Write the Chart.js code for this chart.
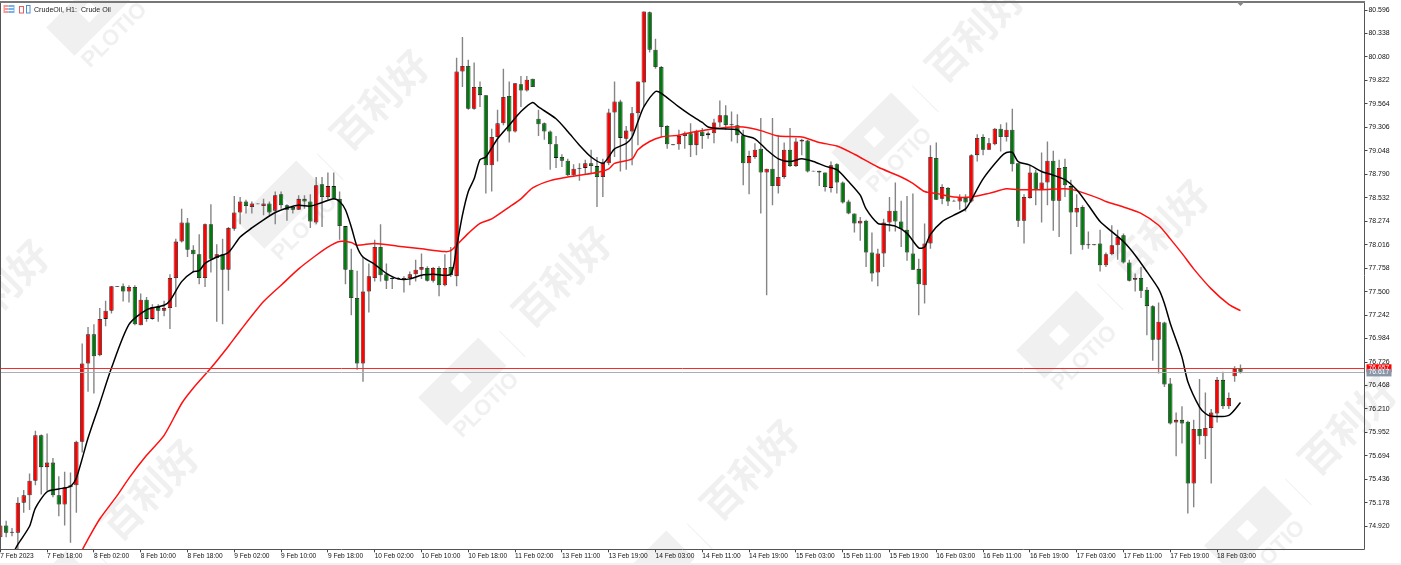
<!DOCTYPE html>
<html>
<head>
<meta charset="utf-8">
<title>CrudeOil, H1</title>
<script src="https://cdn.jsdelivr.net/npm/chart.js@4/dist/chart.umd.min.js"></script>
<style>
  html, body { margin: 0; padding: 0; background: #fff; overflow: hidden; }
  canvas { display: block; }
</style>
</head>
<body>
<canvas id="chart" width="1401" height="565"></canvas>
<script>
// H1 candles, one entry per bar
const opens = [
  74.80,74.93,74.86,74.85,75.18,75.26,75.42,75.92,75.57,75.62,
  75.26,75.16,75.35,75.37,75.85,76.71,77.03,76.80,77.20,77.29,
  77.56,77.56,77.50,77.55,77.13,77.41,77.20,77.33,77.29,77.32,
  77.65,78.05,78.26,77.96,77.91,77.65,78.24,77.87,77.91,77.74,
  78.19,78.37,78.49,78.43,78.47,78.44,78.47,78.39,78.57,78.45,
  78.43,78.40,78.52,78.49,78.26,78.68,78.54,78.66,78.52,78.22,
  77.74,77.43,76.71,77.50,77.65,77.99,77.69,77.64,77.65,77.63,
  77.65,77.69,77.74,77.76,77.62,77.76,77.57,77.77,77.67,79.92,
  79.98,79.51,79.75,79.66,78.89,79.20,79.35,79.65,79.26,79.78,
  79.71,79.84,79.40,79.35,79.26,79.12,78.98,78.94,78.78,78.86,
  78.86,78.91,78.88,78.76,78.91,79.47,79.59,79.18,79.26,79.46,
  79.80,80.57,80.16,79.97,79.32,79.12,79.12,79.21,79.24,79.11,
  79.26,79.22,79.24,79.36,79.44,79.34,79.33,79.22,78.91,78.98,
  79.07,78.81,78.85,78.66,78.76,79.06,78.88,79.15,79.16,78.83,
  78.83,78.81,78.64,78.90,78.70,78.49,78.36,78.25,78.28,77.93,
  77.71,77.92,78.26,78.39,78.27,78.18,77.92,77.75,77.57,78.03,
  78.97,78.52,78.64,78.50,78.49,78.53,78.49,79.00,79.20,79.06,
  79.12,79.29,79.20,79.28,78.91,78.28,78.53,78.81,78.62,78.70,
  78.94,78.50,78.87,78.66,78.37,78.43,78.02,78.02,78.03,77.79,
  77.91,78.01,78.12,77.82,77.63,77.65,77.52,77.34,76.97,77.16,
  76.49,76.06,76.09,76.07,75.39,75.99,75.91,76.00,76.16,76.53,
  76.24,76.57,76.66
];
const closes = [
  74.93,74.85,74.85,75.18,75.26,75.42,75.92,75.57,75.62,75.26,
  75.16,75.35,75.37,75.85,76.71,77.03,76.79,77.20,77.29,77.56,
  77.55,77.50,77.55,77.14,77.41,77.20,77.33,77.29,77.32,77.65,
  78.05,78.26,77.96,77.91,77.65,78.24,77.86,77.91,77.74,78.20,
  78.37,78.49,78.44,78.47,78.46,78.47,78.37,78.56,78.45,78.40,
  78.40,78.52,78.49,78.27,78.67,78.54,78.66,78.52,78.22,77.74,
  77.43,76.71,77.50,77.67,77.99,77.68,77.62,77.65,77.64,77.65,
  77.69,77.74,77.77,77.62,77.76,77.57,77.76,77.68,79.92,79.98,
  79.51,79.75,79.66,78.89,79.20,79.35,79.64,79.26,79.79,79.71,
  79.83,79.75,79.34,79.26,79.12,78.97,78.94,78.78,78.85,78.85,
  78.91,78.88,78.76,78.92,79.47,79.59,79.19,79.27,79.46,79.81,
  80.58,80.16,79.97,79.31,79.12,79.11,79.21,79.24,79.11,79.26,
  79.21,79.24,79.36,79.44,79.33,79.33,79.22,78.91,78.99,79.06,
  78.81,78.85,78.66,78.76,79.06,78.88,79.15,79.17,78.82,78.82,
  78.81,78.65,78.89,78.70,78.48,78.36,78.25,78.28,77.93,77.70,
  77.92,78.26,78.39,78.27,78.19,77.93,77.74,77.58,78.03,78.98,
  78.51,78.65,78.49,78.49,78.54,78.48,79.00,79.19,79.06,79.13,
  79.29,79.20,79.28,78.90,78.28,78.54,78.81,78.62,78.70,78.94,
  78.50,78.86,78.67,78.37,78.42,78.01,78.01,78.01,77.79,77.91,
  78.01,78.10,77.82,77.62,77.65,77.51,77.34,76.97,77.17,76.48,
  76.05,76.09,76.05,75.39,75.99,75.91,76.00,76.17,76.53,76.24,
  76.33,76.65,76.62
];
const highs = [
  74.93,74.98,74.90,75.24,75.32,75.50,75.97,75.93,75.94,75.67,
  75.47,75.52,75.51,75.86,76.93,77.11,77.14,77.32,77.40,77.56,
  77.56,77.59,77.57,77.57,77.48,77.44,77.36,77.36,77.40,77.69,
  78.08,78.41,78.31,78.01,78.13,78.25,78.46,78.02,78.08,78.21,
  78.55,78.54,78.51,78.49,78.47,78.52,78.49,78.60,78.60,78.46,
  78.44,78.56,78.56,78.57,78.76,78.76,78.81,78.81,78.60,78.22,
  77.97,77.73,77.88,77.81,78.07,78.24,77.81,77.66,77.66,77.67,
  77.72,77.85,77.92,77.78,77.77,77.78,77.91,77.99,80.07,80.30,
  80.05,80.02,79.81,79.66,79.29,79.50,79.95,79.81,79.79,79.87,
  79.87,79.84,79.50,79.36,79.27,79.21,79.01,78.96,78.90,78.91,
  78.95,79.06,78.98,78.96,79.51,79.81,79.61,79.32,79.53,79.81,
  80.58,80.58,80.28,79.98,79.33,79.12,79.28,79.26,79.35,79.28,
  79.30,79.26,79.40,79.60,79.55,79.48,79.45,79.28,79.05,79.13,
  79.41,78.85,79.41,79.22,79.14,79.30,79.19,79.18,79.17,78.83,
  78.83,78.81,78.93,78.91,78.71,78.51,78.36,78.32,78.29,78.15,
  77.97,78.30,78.54,78.70,78.50,78.55,78.58,77.86,78.25,79.11,
  79.14,78.68,78.65,78.51,78.57,78.57,79.01,79.23,79.23,79.19,
  79.30,79.34,79.36,79.51,78.91,78.57,78.89,78.84,79.03,79.15,
  79.05,78.95,78.96,78.73,78.57,78.45,78.16,78.02,78.18,77.93,
  78.23,78.18,78.14,77.85,77.70,77.77,77.55,77.35,77.38,77.17,
  76.55,76.17,76.24,76.08,76.09,76.54,76.39,76.21,76.56,76.62,
  76.39,76.68,76.70
];
const lows = [
  74.80,74.80,74.81,74.64,75.07,75.10,75.37,75.27,75.31,75.24,
  75.03,74.93,74.74,75.07,75.73,76.40,76.38,76.79,77.12,77.26,
  77.55,77.39,77.38,77.13,77.13,77.17,77.19,77.17,77.23,77.09,
  77.33,78.04,77.88,77.71,77.58,77.55,77.71,77.17,77.14,77.51,
  78.17,78.24,78.36,78.36,78.46,78.34,78.34,78.24,78.41,78.28,
  78.36,78.40,78.41,78.20,78.24,78.21,78.51,78.51,78.07,77.58,
  77.24,76.64,76.51,77.27,77.61,77.61,77.53,77.53,77.63,77.49,
  77.57,77.61,77.64,77.61,77.60,77.45,77.56,77.66,77.56,79.75,
  79.50,79.50,79.53,78.58,78.60,78.93,79.33,79.14,79.25,79.53,
  79.70,79.75,79.21,79.17,78.84,78.86,78.87,78.77,78.77,78.72,
  78.79,78.79,78.43,78.54,78.89,78.98,78.82,78.84,78.89,79.11,
  79.53,80.13,79.95,79.20,79.07,79.11,79.06,79.07,78.98,79.00,
  79.07,79.18,79.13,79.31,79.28,79.15,79.13,78.67,78.57,78.96,
  78.36,77.46,78.45,78.58,78.74,78.87,78.87,79.00,78.81,78.82,
  78.66,78.60,78.59,78.58,78.47,78.35,78.15,78.06,77.77,77.61,
  77.56,77.77,78.16,78.16,77.99,77.84,77.74,77.24,77.37,77.97,
  78.51,78.46,78.44,78.49,78.40,78.38,78.48,78.93,79.00,79.06,
  79.11,79.04,79.15,78.82,78.21,78.03,78.52,78.45,78.26,78.45,
  78.17,78.10,78.54,77.91,78.21,77.96,77.97,78.01,77.72,77.77,
  77.90,77.85,77.81,77.61,77.50,77.43,77.02,76.74,76.60,76.45,
  76.04,75.69,75.83,75.06,75.13,75.82,75.66,75.39,76.06,76.21,
  76.21,76.51,76.60
];

// fast average (black) at these bars
const fastBars = [2,3,5,6,8,10,12,13,15,17,19,22,25,28,29,31,33,34,35,37,39,41,43,45,47,49,51,53,55,57,58,59,60,61,62,64,66,68,70,72,74,77,78,79,80,81,82,83,85,87,89,91,92,95,97,99,101,103,104,105,107,108,109,110,112,113,116,118,120,121,123,126,127,129,131,133,135,137,139,141,143,145,147,148,150,151,153,155,157,158,159,161,163,165,166,168,171,172,173,174,176,178,180,182,184,186,188,190,192,194,196,198,199,200,202,203,205,206,207,210,212];
const fastValues = [74.60,74.72,74.92,75.12,75.30,75.33,75.36,75.45,75.89,76.27,76.66,77.14,77.30,77.35,77.40,77.61,77.72,77.73,77.81,77.88,77.93,78.10,78.20,78.29,78.37,78.42,78.45,78.44,78.48,78.52,78.49,78.40,78.21,77.99,77.88,77.80,77.70,77.64,77.64,77.68,77.69,77.69,77.99,78.34,78.60,78.74,78.95,78.98,79.18,79.33,79.48,79.58,79.53,79.40,79.26,79.11,78.98,78.91,78.98,79.07,79.13,79.20,79.37,79.53,79.70,79.68,79.53,79.44,79.36,79.31,79.29,79.28,79.22,79.18,79.06,78.96,78.93,78.96,78.93,78.88,78.84,78.71,78.56,78.41,78.25,78.24,78.22,78.14,77.98,77.99,78.13,78.27,78.34,78.41,78.51,78.74,78.98,79.03,79.03,78.93,78.89,78.82,78.78,78.73,78.62,78.45,78.27,78.16,78.05,77.90,77.72,77.53,77.37,77.15,76.78,76.51,76.23,76.16,76.13,76.14,76.28];

// slow average (red)
const slowBars = [14,15,17,20,22,25,28,31,33,36,39,41,45,48,51,54,56,58,60,61,64,68,72,76,77,78,80,82,84,87,89,91,94,97,99,102,104,105,108,109,111,113,116,118,119,122,125,127,130,133,137,140,143,146,150,154,156,158,160,163,166,169,172,174,178,182,184,188,189,192,195,198,200,202,204,207,210,212];
const slowValues = [74.66,74.78,75.00,75.26,75.45,75.70,75.92,76.27,76.44,76.66,76.90,77.07,77.39,77.57,77.75,77.90,77.99,78.05,78.04,78.01,78.03,78.00,77.97,77.94,77.95,78.01,78.14,78.25,78.30,78.43,78.52,78.64,78.72,78.76,78.78,78.81,78.85,78.91,78.96,79.06,79.15,79.20,79.22,79.25,79.26,79.29,79.31,79.31,79.27,79.21,79.20,79.14,79.10,79.01,78.87,78.76,78.69,78.60,78.58,78.54,78.54,78.58,78.63,78.62,78.62,78.63,78.61,78.52,78.49,78.43,78.36,78.23,78.08,77.92,77.75,77.53,77.36,77.29];

const timeLabels = ["7 Feb 2023","7 Feb 18:00","8 Feb 02:00","8 Feb 10:00","8 Feb 18:00","9 Feb 02:00","9 Feb 10:00","9 Feb 18:00","10 Feb 02:00","10 Feb 10:00","10 Feb 18:00","11 Feb 02:00","13 Feb 11:00","13 Feb 19:00","14 Feb 03:00","14 Feb 11:00","14 Feb 19:00","15 Feb 03:00","15 Feb 11:00","15 Feb 19:00","16 Feb 03:00","16 Feb 11:00","16 Feb 19:00","17 Feb 03:00","17 Feb 11:00","17 Feb 19:00","18 Feb 03:00"];
const priceTicks = [80.596,80.338,80.080,79.822,79.564,79.306,79.048,78.790,78.532,78.274,78.016,77.758,77.500,77.242,76.984,76.726,76.468,76.210,75.952,75.694,75.436,75.178,74.920];
const askPrice = 76.657;
const bidPrice = 76.617;

const barsPerLabel = 8;
const upColor = "#ff0000";
const downColor = "#007a0c";

// background watermark, logo anchors in page pixels
const logoSpots = [[90,12],[280,205],[462,382],[650,575],[685,-55],[875,137],[1060,335],[1248,530],[50,595],[-100,395]];

const barIndex = opens.map((v, i) => i);

const overlayPlugin = {
  id: "overlay",
  beforeDraw(chart) {
    const ctx = chart.ctx;
    ctx.save();
    logoSpots.forEach(([x, y]) => {
      ctx.save();
      ctx.translate(x, y);
      ctx.rotate(-Math.PI / 4);
      ctx.fillStyle = "#f0f0f0";
      ctx.fillRect(-42, -20, 85, 40);
      ctx.fillStyle = "#fff";
      ctx.fillRect(-8, -8, 15, 15);
      ctx.fillStyle = "#f0f0f0";
      ctx.font = "bold 22px 'Liberation Sans'";
      ctx.textAlign = "center";
      ctx.textBaseline = "middle";
      ctx.fillText("PLOTIO", 1, 34);
      ctx.fillRect(62, -10, 1, 37);
      ctx.restore();

      ctx.save();
      ctx.translate(x + 100, y - 105);
      ctx.rotate(-Math.PI / 4);
      ctx.fillStyle = "#f0f0f0";
      ctx.font = "bold 40px 'Noto Sans CJK SC'";
      ctx.textAlign = "center";
      ctx.textBaseline = "middle";
      ctx.fillText("百利好", 0, 0);
      ctx.restore();
    });
    ctx.restore();
  },
  afterDatasetsDraw(chart) {
    const ctx = chart.ctx;
    const area = chart.chartArea;
    const y = chart.scales.y;
    const askY = Math.round(y.getPixelForValue(askPrice)) + 0.5;
    const bidY = Math.round(y.getPixelForValue(bidPrice)) + 0.5;

    // ask / bid lines
    ctx.save();
    ctx.lineWidth = 1;
    ctx.strokeStyle = "#f42c2c";
    ctx.beginPath();
    ctx.moveTo(area.left, askY);
    ctx.lineTo(area.right, askY);
    ctx.stroke();
    ctx.strokeStyle = "#a9aeb5";
    ctx.beginPath();
    ctx.moveTo(area.left, bidY);
    ctx.lineTo(area.right, bidY);
    ctx.stroke();
    ctx.restore();
  },
  afterDraw(chart) {
    const ctx = chart.ctx;
    const y = chart.scales.y;
    const x = chart.scales.x;
    ctx.save();

    // window strips and frame
    ctx.fillStyle = "#f0f0f0";
    ctx.fillRect(0, 563, 1401, 2);
    ctx.strokeStyle = "#555";
    ctx.lineWidth = 1;
    ctx.beginPath();
    ctx.moveTo(0.5, 1.5);
    ctx.lineTo(1364.5, 1.5);
    ctx.lineTo(1364.5, 549.5);
    ctx.lineTo(0.5, 549.5);
    ctx.closePath();
    ctx.stroke();
    ctx.fillStyle = "#777";
    ctx.fillRect(0, 1, 1365, 2);

    // ask / bid price boxes
    const askY = y.getPixelForValue(askPrice);
    const bidY = y.getPixelForValue(bidPrice);
    ctx.font = "6.8px 'Liberation Sans'";
    ctx.textAlign = "left";
    ctx.textBaseline = "middle";
    ctx.fillStyle = "#ff0000";
    ctx.fillRect(1366.5, askY - 4, 25, 8);
    ctx.fillStyle = "#fff";
    ctx.fillText(askPrice.toFixed(3), 1368.5, askY);
    ctx.fillStyle = "#8896a8";
    ctx.fillRect(1366.5, bidY - 3, 25, 7.5);
    ctx.fillStyle = "#fff";
    ctx.fillText(bidPrice.toFixed(3), 1368.5, bidY + 0.5);

    // small marker above the last bar
    const lastX = x.getPixelForValue(opens.length - 1);
    ctx.fillStyle = "#888";
    ctx.beginPath();
    ctx.moveTo(lastX - 4, 2);
    ctx.lineTo(lastX + 4, 2);
    ctx.lineTo(lastX, 6);
    ctx.closePath();
    ctx.fill();

    // header icons and symbol text
    ctx.fillStyle = "#f59a9a";
    ctx.fillRect(3.5, 5, 5, 8);
    ctx.fillStyle = "#7ab4e6";
    ctx.fillRect(8.5, 5, 6, 8);
    ctx.fillStyle = "#fff";
    ctx.fillRect(5, 7, 8.5, 1);
    ctx.fillRect(5, 10, 8.5, 1);
    ctx.strokeStyle = "#e06060";
    ctx.strokeRect(19.5, 6.5, 4, 6.5);
    ctx.strokeStyle = "#4a90d0";
    ctx.strokeRect(26.5, 5.5, 3.5, 7.5);
    ctx.fillStyle = "#222";
    ctx.font = "7.1px 'Liberation Sans'";
    ctx.fillText("CrudeOil, H1:  Crude Oil", 34, 9.8);
    ctx.restore();
  }
};

const bodyColor = (ctx) => {
  const i = ctx.dataIndex;
  return closes[i] >= opens[i] ? upColor : downColor;
};

new Chart(document.getElementById("chart"), {
  type: "bar",
  plugins: [overlayPlugin],
  data: {
    datasets: [
      {
        type: "line",
        order: 0,
        data: fastBars.map((b, i) => ({ x: b, y: fastValues[i] })),
        borderColor: "#000",
        borderWidth: 1.5,
        pointRadius: 0,
        tension: 0.25,
      },
      {
        type: "line",
        order: 1,
        data: slowBars.map((b, i) => ({ x: b, y: slowValues[i] })),
        borderColor: "#ff1010",
        borderWidth: 1.5,
        pointRadius: 0,
        tension: 0.25,
      },
      {
        order: 2,
        data: barIndex.map((i) => ({ x: i, y: [opens[i], closes[i]] })),
        backgroundColor: bodyColor,
        borderColor: "#1c1c1c",
        borderWidth: 0.8,
        borderSkipped: false,
        inflateAmount: 0,
        barThickness: 4.4,
        grouped: false,
      },
      {
        order: 3,
        data: barIndex.map((i) => ({ x: i, y: [lows[i], highs[i]] })),
        backgroundColor: "#858585",
        borderWidth: 0,
        inflateAmount: 0,
        barThickness: 1.4,
        grouped: false,
      },
    ],
  },
  options: {
    responsive: false,
    animation: false,
    events: [],
    layout: { padding: { left: 0.3, top: 2, right: 0, bottom: 0 } },
    plugins: { legend: { display: false }, tooltip: { enabled: false } },
    scales: {
      x: {
        type: "linear",
        offset: false,
        min: 0,
        max: 233.2,
        grid: { offset: false, drawOnChartArea: false, tickLength: 3, tickColor: "#444" },
        border: { display: false },
        afterBuildTicks(scale) {
          scale.ticks = timeLabels.map((t, i) => ({ value: i * barsPerLabel }));
        },
        afterFit(scale) {
          scale.height = 15.7;
          scale.paddingLeft = 0;
          scale.paddingRight = 0;
        },
        ticks: {
          autoSkip: false,
          maxRotation: 0,
          align: "start",
          padding: 0,
          color: "#111",
          font: { family: "'Liberation Sans'", size: 6.6 },
          callback: (value) => timeLabels[value / barsPerLabel],
        },
      },
      y: {
        position: "right",
        min: 74.667,
        max: 80.684,
        grid: { drawOnChartArea: false, tickLength: 3, tickColor: "#444" },
        border: { display: false },
        afterBuildTicks(scale) {
          scale.ticks = priceTicks.map((v) => ({ value: v }));
        },
        afterFit(scale) {
          scale.width = 36.5;
          scale.paddingTop = 0;
          scale.paddingBottom = 0;
        },
        ticks: {
          autoSkip: false,
          padding: 1,
          color: "#111",
          font: { family: "'Liberation Sans'", size: 6.9 },
          callback: (value) => value.toFixed(3),
        },
      },
    },
  },
});
</script>
</body>
</html>
